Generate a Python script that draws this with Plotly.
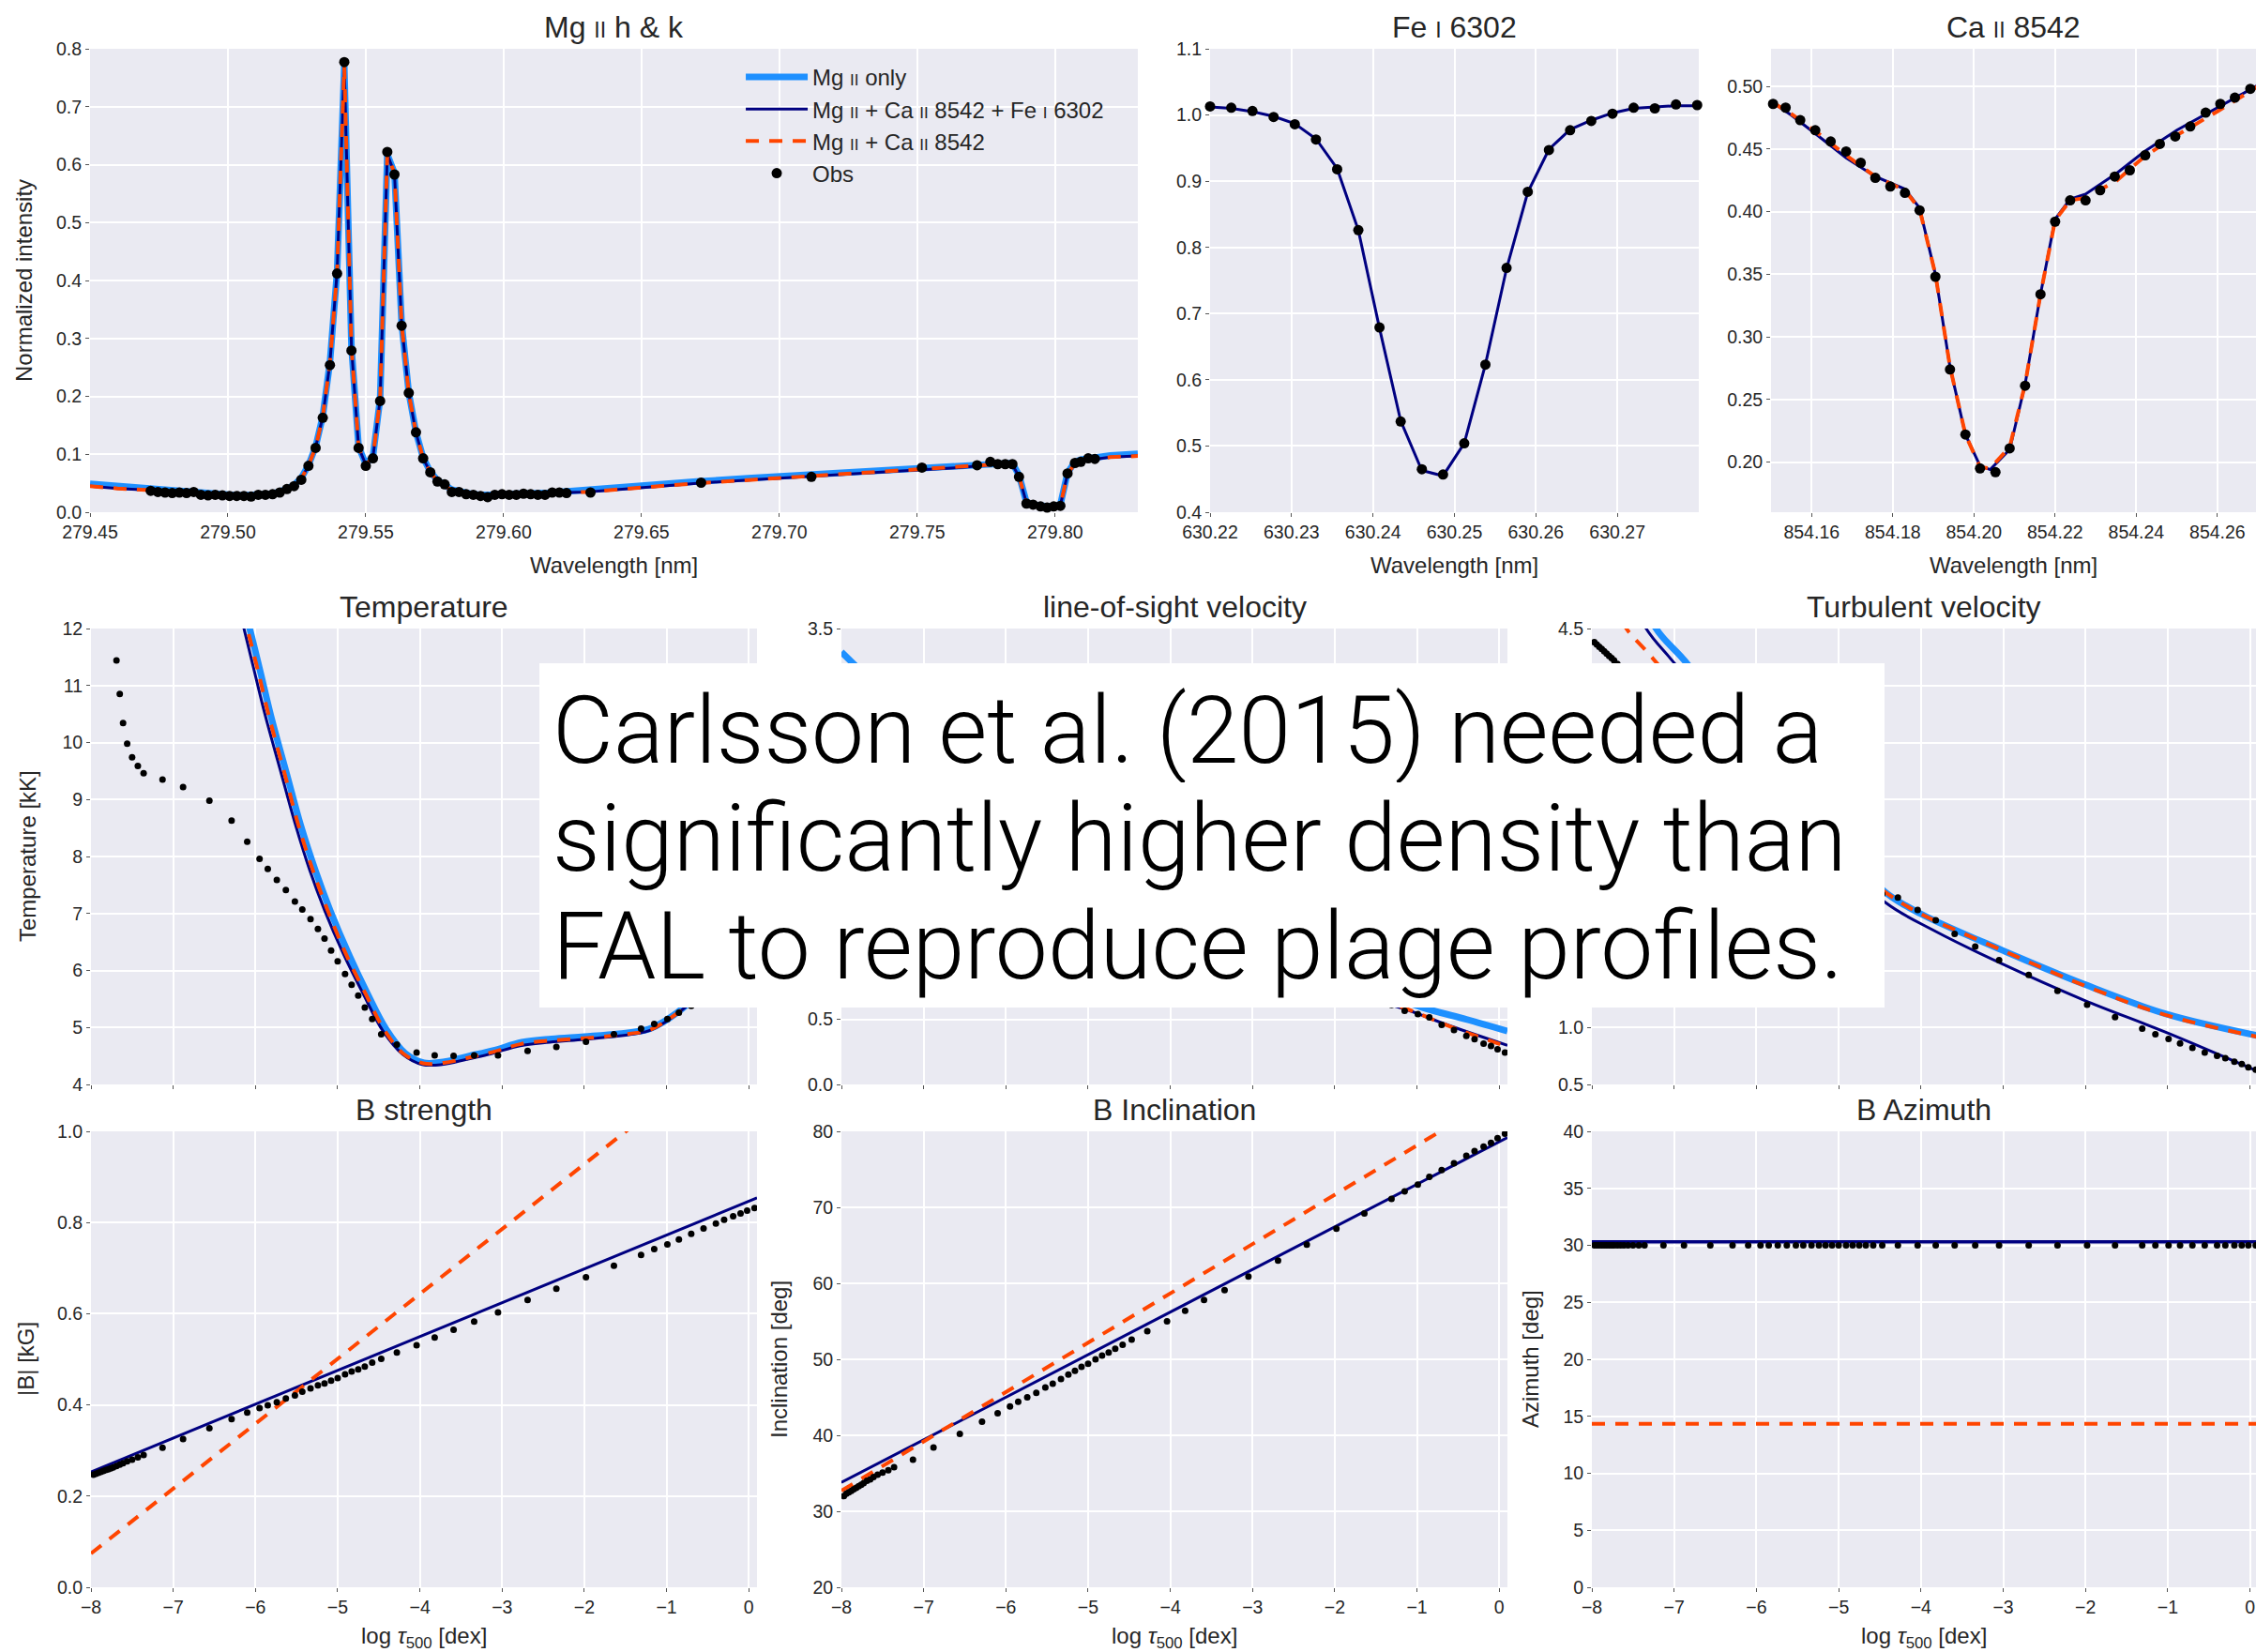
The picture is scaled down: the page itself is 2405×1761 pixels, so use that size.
import plotly.graph_objects as go

# ---------------- DATA ----------------
# Mg II h & k
mg_obs_x = [279.4720, 279.4746, 279.4772, 279.4798, 279.4824, 279.4850, 279.4876, 279.4902, 279.4928, 279.4954,
            279.4980, 279.5006, 279.5032, 279.5058, 279.5084, 279.5110, 279.5136, 279.5162, 279.5188, 279.5214,
            279.5240, 279.5266, 279.5292, 279.5318, 279.5344, 279.5370, 279.5396, 279.5422, 279.5448, 279.5474,
            279.5500, 279.5526, 279.5552, 279.5578, 279.5604, 279.5630, 279.5656, 279.5682, 279.5708, 279.5734,
            279.5760, 279.5786, 279.5812, 279.5838, 279.5864, 279.5890, 279.5916, 279.5942, 279.5968, 279.5994,
            279.6020, 279.6046, 279.6072, 279.6098, 279.6124, 279.6150, 279.6176, 279.6202, 279.6228,
            279.6315, 279.6716, 279.7116, 279.7517,
            279.7717, 279.7765, 279.7792, 279.7819, 279.7845, 279.7869, 279.7896, 279.7920, 279.7947, 279.7971,
            279.7995, 279.8019, 279.8045, 279.8072, 279.8093, 279.8120, 279.8144]
mg_obs_y = [0.037, 0.035, 0.034, 0.033, 0.034, 0.033, 0.035, 0.030, 0.029, 0.030,
            0.029, 0.028, 0.028, 0.028, 0.027, 0.030, 0.030, 0.031, 0.034, 0.040,
            0.045, 0.056, 0.080, 0.111, 0.163, 0.254, 0.412, 0.777, 0.279, 0.111,
            0.080, 0.093, 0.192, 0.622, 0.583, 0.322, 0.206, 0.138, 0.093, 0.069,
            0.053, 0.048, 0.035, 0.035, 0.031, 0.030, 0.028, 0.026, 0.030, 0.031,
            0.030, 0.030, 0.032, 0.031, 0.030, 0.030, 0.034, 0.034, 0.033,
            0.034, 0.051, 0.061, 0.077,
            0.081, 0.087, 0.083, 0.083, 0.083, 0.061, 0.015, 0.013, 0.010, 0.008,
            0.010, 0.011, 0.067, 0.085, 0.087, 0.093, 0.092]
mg_fit_x = [279.4500, 279.4600,
            279.4720, 279.4746, 279.4772, 279.4798, 279.4824, 279.4850, 279.4876, 279.4902, 279.4928, 279.4954,
            279.4980, 279.5006, 279.5032, 279.5058, 279.5084, 279.5110, 279.5136, 279.5162, 279.5188, 279.5214,
            279.5240, 279.5266, 279.5292, 279.5318, 279.5344, 279.5370, 279.5396, 279.5422, 279.5448, 279.5474,
            279.5500, 279.5526, 279.5552, 279.5578, 279.5604, 279.5630, 279.5656, 279.5682, 279.5708, 279.5734,
            279.5760, 279.5786, 279.5812, 279.5838, 279.5864, 279.5890, 279.5916, 279.5942, 279.5968, 279.5994,
            279.6020, 279.6046, 279.6072, 279.6098, 279.6124, 279.6150, 279.6176, 279.6202, 279.6228,
            279.6300, 279.6500, 279.6700, 279.6900, 279.7100, 279.7300, 279.7500, 279.7650,
            279.7717, 279.7765, 279.7792, 279.7819, 279.7845, 279.7869, 279.7896, 279.7920, 279.7947, 279.7971,
            279.7995, 279.8019, 279.8045, 279.8072, 279.8093, 279.8120, 279.8144,
            279.8200, 279.8300]
mg_fit_all = [0.045, 0.041,
              0.038, 0.036, 0.035, 0.034, 0.034, 0.033, 0.033, 0.031, 0.030, 0.030,
              0.029, 0.029, 0.028, 0.028, 0.028, 0.029, 0.030, 0.031, 0.034, 0.039,
              0.046, 0.058, 0.080, 0.112, 0.165, 0.258, 0.415, 0.770, 0.285, 0.112,
              0.082, 0.095, 0.195, 0.618, 0.585, 0.325, 0.205, 0.137, 0.093, 0.069,
              0.054, 0.045, 0.038, 0.035, 0.032, 0.030, 0.029, 0.028, 0.029, 0.030,
              0.030, 0.031, 0.031, 0.031, 0.031, 0.031, 0.032, 0.033, 0.034,
              0.035, 0.043, 0.050, 0.056, 0.062, 0.068, 0.073, 0.077,
              0.080, 0.082, 0.083, 0.083, 0.082, 0.062, 0.016, 0.012, 0.010, 0.009,
              0.010, 0.012, 0.066, 0.084, 0.088, 0.090, 0.092,
              0.095, 0.097]
mg_fit_ca = [0.045, 0.041,
             0.038, 0.036, 0.035, 0.034, 0.034, 0.033, 0.033, 0.031, 0.030, 0.030,
             0.029, 0.029, 0.028, 0.028, 0.028, 0.029, 0.030, 0.031, 0.034, 0.039,
             0.046, 0.058, 0.080, 0.112, 0.165, 0.258, 0.415, 0.770, 0.285, 0.112,
             0.082, 0.095, 0.195, 0.618, 0.585, 0.325, 0.205, 0.137, 0.093, 0.069,
             0.054, 0.045, 0.038, 0.035, 0.032, 0.030, 0.029, 0.028, 0.029, 0.030,
             0.030, 0.031, 0.031, 0.031, 0.031, 0.031, 0.032, 0.033, 0.034,
             0.035, 0.043, 0.050, 0.056, 0.062, 0.068, 0.073, 0.077,
             0.080, 0.082, 0.083, 0.083, 0.082, 0.062, 0.016, 0.012, 0.010, 0.009,
             0.010, 0.012, 0.066, 0.084, 0.088, 0.090, 0.092,
             0.095, 0.097]
mg_fit_mgonly = [0.049, 0.045,
                 0.040, 0.038, 0.037, 0.036, 0.035, 0.034, 0.034, 0.032, 0.031, 0.031,
                 0.030, 0.030, 0.029, 0.029, 0.029, 0.030, 0.031, 0.032, 0.035, 0.040,
                 0.047, 0.059, 0.081, 0.113, 0.166, 0.259, 0.416, 0.770, 0.286, 0.113,
                 0.083, 0.096, 0.196, 0.618, 0.586, 0.326, 0.206, 0.138, 0.094, 0.070,
                 0.055, 0.046, 0.039, 0.036, 0.033, 0.031, 0.030, 0.029, 0.030, 0.031,
                 0.031, 0.032, 0.032, 0.032, 0.033, 0.033, 0.034, 0.035, 0.036,
                 0.038, 0.046, 0.053, 0.059, 0.065, 0.071, 0.076, 0.080,
                 0.083, 0.085, 0.086, 0.086, 0.085, 0.064, 0.017, 0.013, 0.011, 0.010,
                 0.011, 0.013, 0.068, 0.087, 0.091, 0.093, 0.095,
                 0.098, 0.101]

# Fe I 6302
fe_x = [630.2200, 630.2226, 630.2252, 630.2278, 630.2304, 630.2330, 630.2356, 630.2382, 630.2408, 630.2434,
        630.2460, 630.2486, 630.2512, 630.2538, 630.2564, 630.2590, 630.2616, 630.2642, 630.2668, 630.2694,
        630.2720, 630.2746, 630.2772, 630.2798]
fe_obs = [1.013, 1.011, 1.006, 0.997, 0.986, 0.963, 0.918, 0.826, 0.679, 0.537,
          0.465, 0.457, 0.504, 0.623, 0.769, 0.884, 0.947, 0.977, 0.991, 1.002,
          1.011, 1.010, 1.016, 1.015]
fe_fit_all = [1.012, 1.010, 1.005, 0.998, 0.987, 0.964, 0.919, 0.826, 0.678, 0.538,
              0.463, 0.455, 0.504, 0.623, 0.768, 0.883, 0.948, 0.978, 0.992, 1.003,
              1.010, 1.012, 1.014, 1.014]

# Ca II 8542
ca_obs_x = [854.1505, 854.1536, 854.1572, 854.1609, 854.1647, 854.1685, 854.1721, 854.1757, 854.1794, 854.1830,
            854.1866, 854.1905, 854.1941, 854.1979, 854.2015, 854.2053, 854.2088, 854.2126, 854.2164, 854.2200,
            854.2237, 854.2275, 854.2311, 854.2347, 854.2384, 854.2422, 854.2458, 854.2496, 854.2533, 854.2571,
            854.2607, 854.2643, 854.2681]
ca_obs_y = [0.486, 0.483, 0.473, 0.465, 0.456, 0.448, 0.439, 0.427, 0.420, 0.415,
            0.401, 0.348, 0.274, 0.222, 0.195, 0.192, 0.211, 0.261, 0.334, 0.392,
            0.409, 0.409, 0.417, 0.428, 0.433, 0.445, 0.454, 0.460, 0.468, 0.479,
            0.486, 0.491, 0.498]
ca_fit_x = [854.1500, 854.1550, 854.1610, 854.1685, 854.1757, 854.1830, 854.1866, 854.1905, 854.1941, 854.1979,
            854.2015, 854.2040, 854.2088, 854.2126, 854.2164, 854.2200, 854.2237, 854.2275, 854.2353, 854.2420,
            854.2500, 854.2600, 854.2700]
ca_fit_all = [0.488, 0.477, 0.462, 0.443, 0.428, 0.418, 0.403, 0.350, 0.276, 0.222,
              0.197, 0.194, 0.210, 0.262, 0.334, 0.394, 0.410, 0.414, 0.431, 0.448,
              0.465, 0.483, 0.501]
ca_fit_ca = [0.488, 0.478, 0.464, 0.445, 0.428, 0.417, 0.402, 0.350, 0.276, 0.222,
             0.196, 0.195, 0.212, 0.262, 0.334, 0.393, 0.409, 0.411, 0.425, 0.444,
             0.461, 0.480, 0.500]

# Depth grid (log tau_500) of the reference atmosphere
logtau = [-7.97, -7.94, -7.91, -7.88, -7.85, -7.82, -7.79, -7.76, -7.73, -7.69, -7.65, -7.61, -7.56, -7.50, -7.43, -7.36,
          -7.13, -6.88, -6.56, -6.29, -6.10, -5.95, -5.85, -5.74, -5.63, -5.52, -5.43, -5.33, -5.24, -5.16, -5.08,
          -5.00, -4.91, -4.83, -4.75, -4.67, -4.58, -4.47, -4.28, -4.04, -3.82, -3.59, -3.34, -3.05, -2.69, -2.34,
          -1.98, -1.64, -1.31, -1.15, -0.99, -0.85, -0.70, -0.55, -0.40, -0.30, -0.19, -0.10, -0.02, 0.07]
temp_obs = [22.0, 20.0, 18.5, 17.0, 15.8, 14.6, 13.6, 12.8, 12.1, 11.44, 10.85, 10.34, 9.98, 9.74, 9.59, 9.46,
            9.35, 9.22, 8.98, 8.63, 8.26, 7.96, 7.78, 7.59, 7.41, 7.21, 7.07, 6.90, 6.73, 6.56, 6.35,
            6.16, 5.94, 5.75, 5.56, 5.35, 5.15, 4.88, 4.70, 4.56, 4.51, 4.50, 4.51, 4.51, 4.59, 4.66,
            4.75, 4.88, 4.98, 5.06, 5.15, 5.26, 5.38, 5.55, 5.75, 5.90, 6.10, 6.30, 6.50, 6.70]
vlos_obs = [2.90, 2.88, 2.86, 2.84, 2.82, 2.80, 2.78, 2.76, 2.74, 2.72, 2.69, 2.66, 2.63, 2.59, 2.54, 2.50,
            2.35, 2.20, 2.01, 1.86, 1.76, 1.68, 1.63, 1.57, 1.52, 1.47, 1.42, 1.38, 1.34, 1.30, 1.27,
            1.23, 1.20, 1.17, 1.14, 1.11, 1.08, 1.04, 1.00, 0.95, 0.90, 0.86, 0.82, 0.78, 0.74, 0.71,
            0.68, 0.65, 0.61, 0.566, 0.541, 0.515, 0.458, 0.417, 0.373, 0.348, 0.314, 0.296, 0.270, 0.245]
vturb_obs = [4.38, 4.36, 4.34, 4.32, 4.30, 4.28, 4.26, 4.24, 4.22, 4.19, 4.16, 4.13, 4.09, 4.05, 4.00, 3.95,
             3.80, 3.63, 3.42, 3.24, 3.12, 3.02, 2.96, 2.89, 2.82, 2.76, 2.70, 2.64, 2.58, 2.53, 2.48,
             2.44, 2.39, 2.34, 2.30, 2.26, 2.22, 2.17, 2.14, 2.03, 1.94, 1.82, 1.71, 1.59, 1.46, 1.32,
             1.20, 1.09, 0.99, 0.94, 0.90, 0.86, 0.82, 0.78, 0.75, 0.73, 0.70, 0.68, 0.65, 0.63]
bstr_obs = [0.247, 0.249, 0.251, 0.253, 0.255, 0.257, 0.259, 0.261, 0.263, 0.266, 0.269, 0.272, 0.276, 0.280, 0.285, 0.290,
            0.306, 0.325, 0.349, 0.369, 0.383, 0.393, 0.399, 0.406, 0.414, 0.421, 0.429, 0.436, 0.443, 0.447, 0.453,
            0.459, 0.467, 0.473, 0.478, 0.484, 0.493, 0.501, 0.515, 0.531, 0.548, 0.565, 0.583, 0.603, 0.630, 0.655,
            0.680, 0.705, 0.729, 0.742, 0.752, 0.763, 0.775, 0.787, 0.798, 0.806, 0.814, 0.820, 0.826, 0.832]
incl_obs = [32.0, 32.3, 32.5, 32.7, 32.9, 33.1, 33.3, 33.5, 33.7, 34.0, 34.2, 34.5, 34.8, 35.1, 35.4, 35.8,
            36.8, 38.4, 40.2, 41.8, 42.9, 43.8, 44.4, 45.0, 45.6, 46.3, 46.8, 47.4, 48.0, 48.5, 49.0,
            49.4, 50.0, 50.5, 50.9, 51.4, 51.9, 52.6, 53.7, 55.0, 56.4, 57.8, 59.1, 60.9, 63.0, 65.1,
            67.2, 69.2, 71.1, 72.1, 73.0, 74.0, 74.9, 75.8, 76.8, 77.4, 78.0, 78.5, 79.1, 79.7]
azi_obs = [30.0, 30.0, 30.0, 30.0, 30.0, 30.0, 30.0, 30.0, 30.0, 30.0, 30.0, 30.0, 30.0, 30.0, 30.0, 30.0,
           30.0, 30.0, 30.0, 30.0, 30.0, 30.0, 30.0, 30.0, 30.0, 30.0, 30.0, 30.0, 30.0, 30.0, 30.0,
           30.0, 30.0, 30.0, 30.0, 30.0, 30.0, 30.0, 30.0, 30.0, 30.0, 30.0, 30.0, 30.0, 30.0, 30.0,
           30.0, 30.0, 30.0, 30.0, 30.0, 30.0, 30.0, 30.0, 30.0, 30.0, 30.0, 30.0, 30.0, 30.0]

# Inverted models (nodes)
temp_all_x = [-6.40, -6.14, -6.03, -5.88, -5.70, -5.52, -5.34, -5.16, -4.93, -4.69, -4.45, -4.21, -3.97, -3.73,
              -3.43, -3.13, -2.78, -2.42, -2.00, -1.58, -1.22, -0.99, -0.75, -0.50, -0.20, 0.10]
temp_all_y = [13.5, 12.0, 11.35, 10.47, 9.53, 8.59, 7.76, 7.06, 6.29, 5.59, 4.94, 4.53, 4.35, 4.35,
              4.44, 4.54, 4.68, 4.74, 4.79, 4.85, 4.94, 5.12, 5.38, 5.75, 6.30, 6.90]
temp_mg_x = [-6.35, -6.07, -5.95, -5.80, -5.62, -5.45, -5.27, -5.09, -4.87, -4.64, -4.41, -4.18, -3.95, -3.70,
             -3.40, -3.10, -2.76, -2.40, -2.00, -1.58, -1.22, -0.99, -0.75, -0.50, -0.20, 0.10]
temp_mg_y = [13.5, 12.0, 11.30, 10.40, 9.45, 8.55, 7.75, 7.05, 6.30, 5.60, 4.97, 4.55, 4.38, 4.40,
             4.50, 4.60, 4.74, 4.80, 4.84, 4.89, 4.97, 5.14, 5.40, 5.78, 6.32, 6.92]
temp_ca_x = [-6.37, -6.10, -5.98, -5.83, -5.65, -5.48, -5.30, -5.12, -4.90, -4.66, -4.43, -4.20, -3.96, -3.71,
             -3.41, -3.11, -2.77, -2.41, -2.00, -1.58, -1.22, -0.99, -0.75, -0.50, -0.20, 0.10]
temp_ca_y = [13.5, 12.0, 11.32, 10.43, 9.48, 8.56, 7.75, 7.05, 6.29, 5.59, 4.95, 4.54, 4.37, 4.38,
             4.47, 4.57, 4.71, 4.77, 4.81, 4.87, 4.95, 5.13, 5.39, 5.77, 6.31, 6.91]

vlos_x = [-8.0, -7.0, -6.0, -5.0, -4.0, -3.0, -2.0, -1.22, -0.60, 0.10]
vlos_all = [3.00, 2.40, 1.90, 1.45, 1.10, 0.85, 0.70, 0.592, 0.45, 0.30]
vlos_ca = [3.05, 2.45, 1.93, 1.47, 1.12, 0.86, 0.71, 0.600, 0.445, 0.29]
vlos_mg_x = [-8.0, -7.0, -6.0, -5.0, -4.0, -3.0, -2.0, -0.93, -0.40, 0.10]
vlos_mg = [3.32, 2.72, 2.20, 1.75, 1.38, 1.08, 0.83, 0.59, 0.50, 0.41]

vturb_all_x = [-7.55, -7.34, -6.99, -6.00, -5.00, -4.42, -3.84, -3.02, -2.02, -1.03, 0.08]
vturb_all = [4.85, 4.50, 4.19, 3.30, 2.50, 2.09, 1.85, 1.56, 1.24, 0.96, 0.62]
vturb_ca_x = [-7.75, -7.59, -7.31, -6.50, -5.50, -4.42, -4.01, -3.02, -2.02, -1.03, 0.08]
vturb_ca = [4.75, 4.51, 4.28, 3.60, 2.80, 2.18, 2.00, 1.68, 1.37, 1.11, 0.92]
vturb_mg_x = [-7.45, -7.22, -6.84, -6.00, -5.00, -4.42, -4.01, -3.02, -2.02, -1.03, 0.08]
vturb_mg = [4.90, 4.50, 4.19, 3.35, 2.60, 2.18, 2.00, 1.68, 1.38, 1.12, 0.93]

lin_x = [-8.0, 0.1]
bstr_all = [0.253, 0.854]
bstr_ca = [0.074, 1.227]
incl_all = [33.8, 79.2]
incl_ca = [32.7, 85.3]
azi_all = [30.3, 30.3]
azi_ca = [14.35, 14.35]

depth_ticks = [-8, -7, -6, -5, -4, -3, -2, -1, 0]
depth_ticktext = ["\u22128", "\u22127", "\u22126", "\u22125", "\u22124", "\u22123", "\u22122", "\u22121", "0"]
# y tick labels of the two middle panels; the ones covered by the text box are left blank
vlos_ticks = [0.0, 0.5, 1.0, 1.5, 2.0, 2.5, 3.0, 3.5]
vlos_ticktext = ["0.0", "0.5", "", "", "", "", "", "3.5"]
vturb_ticks = [0.5, 1.0, 1.5, 2.0, 2.5, 3.0, 3.5, 4.0, 4.5]
vturb_ticktext = ["0.5", "1.0", "", "", "", "", "", "", "4.5"]

# ---------------- STYLE / LAYOUT ----------------
W, H = 2405, 1761
BLUE, NAVY, ORANGE = "#1E90FF", "#000080", "#FF4500"
BG, TXT = "#EAEAF2", "#262626"
FONT = "Liberation Sans, Arial, sans-serif"
DASH = "14px,11px"

# pixel boxes: left, right, top, bottom
boxes = {
    1: (96, 1213, 52, 546), 2: (1290, 1811, 52, 546), 3: (1888, 2405, 52, 546),
    4: (97, 807, 670, 1156), 5: (897, 1607, 670, 1156), 6: (1697, 2405, 670, 1156),
    7: (97, 807, 1206, 1692), 8: (897, 1607, 1206, 1692), 9: (1697, 2405, 1206, 1692),
}

def ax(k):
    return ("x", "y") if k == 1 else (f"x{k}", f"y{k}")

fig = go.Figure()

def line(x, y, k, color, width, dash=None, name=None, legend=False, shape="linear"):
    xa, ya = ax(k)
    fig.add_trace(go.Scatter(x=x, y=y, xaxis=xa, yaxis=ya, mode="lines",
                             line=dict(color=color, width=width, dash=dash, shape=shape),
                             name=name, showlegend=legend, legendgroup=name if legend else None,
                             hoverinfo="skip"))

def dots(x, y, k, size, legend=False, clip=True):
    xa, ya = ax(k)
    fig.add_trace(go.Scatter(x=x, y=y, xaxis=xa, yaxis=ya, mode="markers",
                             marker=dict(color="black", size=size, line=dict(width=0)),
                             name="Obs", showlegend=legend, legendgroup="Obs" if legend else None,
                             cliponaxis=clip, hoverinfo="skip"))

SC = "<span style='font-size:17px'>II</span>"
SCI = "<span style='font-size:17px'>I</span>"
# Mg panel (with legend)
line(mg_fit_x, mg_fit_mgonly, 1, BLUE, 7, name=f"Mg {SC} only", legend=True)
line(mg_fit_x, mg_fit_all, 1, NAVY, 3, name=f"Mg {SC} + Ca {SC} 8542 + Fe {SCI} 6302", legend=True)
line(mg_fit_x, mg_fit_ca, 1, ORANGE, 4, dash=DASH, name=f"Mg {SC} + Ca {SC} 8542", legend=True)
dots(mg_obs_x, mg_obs_y, 1, 11, legend=True, clip=False)
# Fe
line(fe_x, fe_fit_all, 2, NAVY, 3)
dots(fe_x, fe_obs, 2, 11, clip=False)
# Ca
line(ca_fit_x, ca_fit_all, 3, NAVY, 3)
line(ca_fit_x, ca_fit_ca, 3, ORANGE, 4, dash=DASH)
dots(ca_obs_x, ca_obs_y, 3, 11, clip=False)
# Temperature
line(temp_mg_x, temp_mg_y, 4, BLUE, 7, shape="spline")
line(temp_all_x, temp_all_y, 4, NAVY, 3, shape="spline")
line(temp_ca_x, temp_ca_y, 4, ORANGE, 4, dash=DASH, shape="spline")
dots(logtau, temp_obs, 4, 7)
# LOS velocity
line(vlos_mg_x, vlos_mg, 5, BLUE, 7, shape="spline")
line(vlos_x, vlos_all, 5, NAVY, 3, shape="spline")
line(vlos_x, vlos_ca, 5, ORANGE, 4, dash=DASH, shape="spline")
dots(logtau, vlos_obs, 5, 7)
# Turbulent velocity
line(vturb_mg_x, vturb_mg, 6, BLUE, 7, shape="spline")
line(vturb_all_x, vturb_all, 6, NAVY, 3, shape="spline")
line(vturb_ca_x, vturb_ca, 6, ORANGE, 4, dash=DASH, shape="spline")
dots(logtau, vturb_obs, 6, 7)
# B strength
line(lin_x, bstr_all, 7, NAVY, 3)
line(lin_x, bstr_ca, 7, ORANGE, 4, dash=DASH)
dots(logtau, bstr_obs, 7, 7)
# B inclination
line(lin_x, incl_all, 8, NAVY, 3)
line(lin_x, incl_ca, 8, ORANGE, 4, dash=DASH)
dots(logtau, incl_obs, 8, 7)
# B azimuth
line(lin_x, azi_all, 9, NAVY, 3.5)
line(lin_x, azi_ca, 9, ORANGE, 4, dash=DASH)
dots(logtau, azi_obs, 9, 7)

# axes
common = dict(showgrid=True, gridcolor="white", gridwidth=2, zeroline=False, showline=False,
              ticks="outside", ticklen=4, tickwidth=1, tickcolor="#555555",
              tickfont=dict(family=FONT, size=19.5, color=TXT), automargin=False)

xspec = {
    1: dict(range=[279.45, 279.83], tick0=279.45, dtick=0.05, tickformat=".2f"),
    2: dict(range=[630.22, 630.28], tickvals=[630.22, 630.23, 630.24, 630.25, 630.26, 630.27], tickformat=".2f"),
    3: dict(range=[854.15, 854.2695], tickvals=[854.16, 854.18, 854.20, 854.22, 854.24, 854.26], tickformat=".2f"),
}
yspec = {
    1: dict(range=[0, 0.8], tick0=0, dtick=0.1, tickformat=".1f"),
    2: dict(range=[0.4, 1.1], tick0=0.4, dtick=0.1, tickformat=".1f"),
    3: dict(range=[0.16, 0.53], tickvals=[0.20, 0.25, 0.30, 0.35, 0.40, 0.45, 0.50], tickformat=".2f"),
    4: dict(range=[4, 12], tick0=4, dtick=1, tickformat="d"),
    5: dict(range=[0, 3.5], tickvals=vlos_ticks, ticktext=vlos_ticktext),
    6: dict(range=[0.5, 4.5], tickvals=vturb_ticks, ticktext=vturb_ticktext),
    7: dict(range=[0, 1.0], tick0=0, dtick=0.2, tickformat=".1f"),
    8: dict(range=[20, 80], tick0=20, dtick=10, tickformat="d"),
    9: dict(range=[0, 40], tick0=0, dtick=5, tickformat="d"),
}
layout_axes = {}
for k, (l, r, t, b) in boxes.items():
    xa, ya = ax(k)
    xname = "xaxis" if k == 1 else f"xaxis{k}"
    yname = "yaxis" if k == 1 else f"yaxis{k}"
    if k in xspec:
        xd = dict(common, **xspec[k])
    else:
        rng = [-8, 0.073] if k in (6, 9) else [-8, 0.1]
        xd = dict(common, range=rng, tickvals=depth_ticks, ticktext=depth_ticktext,
                  showticklabels=(k >= 7))
    xd.update(domain=[l / W, r / W], anchor=ya)
    yd = dict(common, **yspec[k])
    yd.update(domain=[1 - b / H, 1 - t / H], anchor=xa)
    layout_axes[xname] = xd
    layout_axes[yname] = yd

annotations = []
def txt(s, xp, yp, size, angle=0):
    annotations.append(dict(text=s, x=xp / W, y=1 - yp / H, xref="paper", yref="paper",
                            showarrow=False, xanchor="center", yanchor="middle", textangle=angle,
                            font=dict(family=FONT, size=size, color=TXT)))

TSC = "<span style='font-size:23px'>II</span>"
TSCI = "<span style='font-size:23px'>I</span>"
titles = {1: f"Mg {TSC} h &amp; k", 2: f"Fe {TSCI} 6302", 3: f"Ca {TSC} 8542",
          4: "Temperature", 5: "line-of-sight velocity", 6: "Turbulent velocity",
          7: "B strength", 8: "B Inclination", 9: "B Azimuth"}
for k, s in titles.items():
    l, r, t, b = boxes[k]
    txt(s, (l + r) / 2, t - 23, 32)
for k in (1, 2, 3):
    l, r, t, b = boxes[k]
    txt("Wavelength [nm]", (l + r) / 2, b + 57, 24)
for k in (7, 8, 9):
    l, r, t, b = boxes[k]
    txt("log <i>τ</i><sub>500</sub> [dex]", (l + r) / 2, b + 53, 24)
ytitles = {1: ("Normalized intensity", 71), 4: ("Temperature [kK]", 67), 7: ("|B| [kG]", 70),
           8: ("Inclination [deg]", 67), 9: ("Azimuth [deg]", 66)}
for k, (s, off) in ytitles.items():
    l, r, t, b = boxes[k]
    txt(s, l - off, (t + b) / 2, 24, angle=-90)

# overlay text box
BOX = dict(x0=575, x1=2009, y0=707, y1=1074)
shapes = [dict(type="rect", xref="paper", yref="paper", x0=BOX["x0"] / W, x1=BOX["x1"] / W,
               y0=1 - BOX["y1"] / H, y1=1 - BOX["y0"] / H, fillcolor="white",
               line=dict(width=0), layer="above")]
box_lines = ["Carlsson et al. (2015) needed a", "significantly higher density than",
             "FAL to reproduce plage profiles."]
for i, s in enumerate(box_lines):
    annotations.append(dict(text=s, x=587 / W, y=1 - (778 + 115 * i) / H, xref="paper", yref="paper",
                            showarrow=False, xanchor="left", yanchor="middle", height=112,
                            valign="middle",
                            font=dict(family="Roboto, Liberation Sans, sans-serif", size=100,
                                      color="black", weight=300)))

fig.update_layout(
    width=W, height=H, template="none",
    margin=dict(l=0, r=0, t=0, b=0, pad=0),
    paper_bgcolor="white", plot_bgcolor=BG,
    annotations=annotations, shapes=shapes,
    legend=dict(x=0.3285, y=0.966, xanchor="left", yanchor="top", bgcolor="rgba(0,0,0,0)",
                font=dict(family=FONT, size=24, color=TXT), tracegroupgap=0, itemwidth=66),
    **layout_axes,
)

fig.write_html("out.html", config={"displayModeBar": False},
               post_script="document.body.style.margin='0';document.body.style.overflow='hidden';")
